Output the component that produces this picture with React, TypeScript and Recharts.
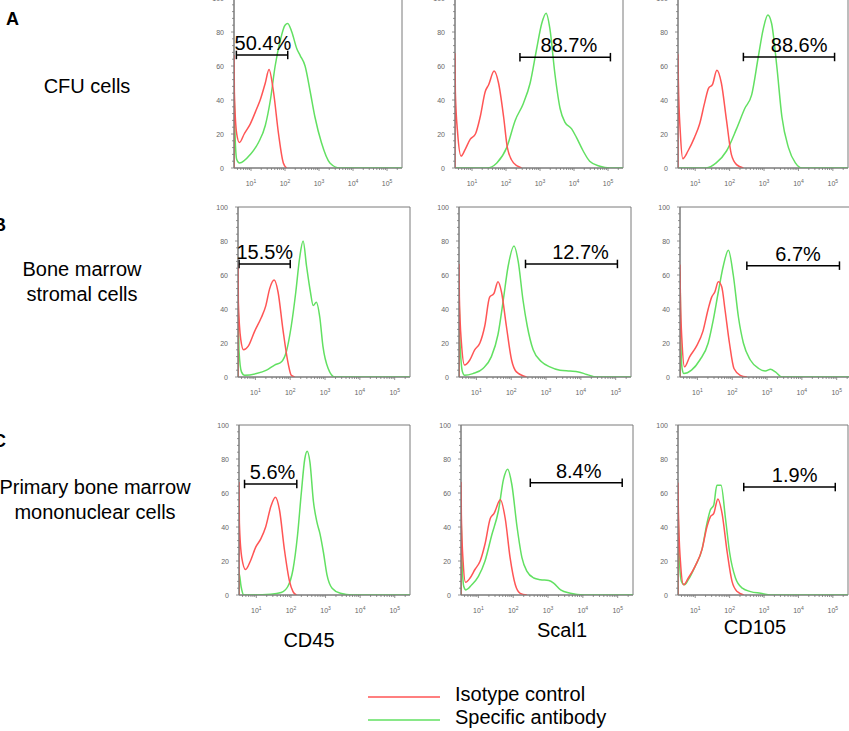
import React from 'react';
import { LineChart, Line, XAxis, YAxis, ReferenceLine, ReferenceDot, ReferenceArea } from 'recharts';

type Pt = [number, number];

// x = log10(fluorescence intensity), y = % of max
const cfuCd45Isotype: Pt[] = [[0.5,0],[0.502,66],[0.51,45],[0.58,20],[0.66,15],[0.8,20],[0.98,26],[1.17,35],[1.27,40],[1.42,50],[1.53,58],[1.66,45],[1.81,20],[1.95,3],[2.05,0]];
const cfuCd45Specific: Pt[] = [[0.5,0],[0.502,45],[0.53,20],[0.58,5],[0.66,3],[0.98,8],[1.22,15],[1.42,25],[1.57,40],[1.71,60],[1.86,75],[2.0,84],[2.08,85],[2.2,80],[2.35,70],[2.45,66],[2.59,60],[2.74,45],[2.88,30],[3.07,15],[3.32,3],[3.61,0],[5.44,0]];
const cfuScaIsotype: Pt[] = [[0.5,0],[0.502,67],[0.51,45],[0.58,20],[0.68,7],[0.8,11],[0.95,17],[1.1,20],[1.24,30],[1.39,45],[1.49,49],[1.65,57],[1.78,50],[1.93,30],[2.04,12],[2.22,3],[2.46,0]];
const cfuScaSpecific: Pt[] = [[0.5,0],[1.44,0],[1.73,3],[2.02,12],[2.27,28],[2.51,38],[2.71,50],[2.9,70],[3.05,85],[3.18,91],[3.29,82],[3.44,55],[3.59,35],[3.73,27],[3.93,23],[4.07,18],[4.27,10],[4.46,4],[4.76,1],[5.05,0],[5.44,0]];
const cfuCd105Isotype: Pt[] = [[0.5,0],[0.502,67],[0.51,51],[0.57,20],[0.64,5.5],[0.79,10],[0.98,18],[1.13,26],[1.27,38],[1.39,47],[1.5,49],[1.63,57.5],[1.76,50],[1.91,28],[2.05,8],[2.2,2],[2.4,0]];
const cfuCd105Specific: Pt[] = [[0.5,0],[1.32,0],[1.61,3],[1.91,10],[2.2,23],[2.44,35],[2.64,43],[2.83,65],[2.98,82],[3.11,90],[3.22,85],[3.37,60],[3.52,30],[3.71,12],[3.91,3],[4.1,0],[5.44,0]];

const bmscCd45Isotype: Pt[] = [[0.5,0],[0.502,66],[0.51,44],[0.58,22],[0.66,16],[0.79,18],[0.98,27],[1.17,35],[1.3,42],[1.41,52],[1.54,57],[1.65,50],[1.79,28],[1.94,8],[2.03,1],[2.13,0]];
const bmscCd45Specific: Pt[] = [[0.5,0],[0.502,45],[0.53,15],[0.6,3],[0.69,1],[1.03,2],[1.32,4],[1.55,7],[1.75,9],[1.89,15],[2.03,30],[2.16,50],[2.27,70],[2.37,80],[2.47,65],[2.58,50],[2.66,42],[2.75,44],[2.85,35],[2.94,18],[3.09,5],[3.28,0],[5.44,0]];
const bmscScaIsotype: Pt[] = [[0.5,0],[0.502,66],[0.51,47],[0.57,20],[0.66,7],[0.81,10],[0.95,16],[1.1,20],[1.24,30],[1.38,47],[1.5,49],[1.62,56],[1.72,50],[1.86,30],[2.01,10],[2.15,3],[2.44,0]];
const bmscScaSpecific: Pt[] = [[0.5,0],[0.502,47],[0.53,20],[0.6,3],[0.66,1],[0.9,2],[1.19,5],[1.43,12],[1.62,25],[1.77,45],[1.91,65],[2.08,77],[2.2,68],[2.34,45],[2.46,30],[2.63,16],[2.87,9],[3.11,6],[3.4,4],[3.69,3.5],[3.93,3],[4.17,1.5],[4.46,0],[5.44,0]];
const bmscCd105Isotype: Pt[] = [[0.5,0],[0.502,66],[0.51,49],[0.56,20],[0.63,6],[0.78,12],[0.97,18],[1.16,27],[1.31,40],[1.41,47],[1.5,50],[1.6,56],[1.7,53],[1.79,40],[1.92,20],[2.05,5],[2.23,1],[2.42,0]];
const bmscCd105Specific: Pt[] = [[0.5,0],[0.502,62],[0.52,25],[0.56,5],[0.61,2],[0.83,4],[1.07,10],[1.31,20],[1.45,33],[1.6,50],[1.74,65],[1.89,74.5],[2.03,60],[2.18,35],[2.32,20],[2.52,10],[2.76,5],[2.95,3.5],[3.1,4.5],[3.24,3],[3.43,0],[5.44,0]];

const pbmcCd45Isotype: Pt[] = [[0.5,0],[0.502,66],[0.51,43],[0.58,22],[0.69,15],[0.83,20],[0.98,28],[1.13,33],[1.27,40],[1.42,52],[1.55,57.5],[1.67,50],[1.81,27],[1.96,8],[2.06,2],[2.16,0]];
const pbmcCd45Specific: Pt[] = [[0.5,0],[0.502,13],[0.56,5],[0.64,0],[1.42,0.5],[1.72,1.5],[1.91,5],[2.06,15],[2.19,35],[2.3,60],[2.4,80],[2.47,84.5],[2.55,78],[2.65,55],[2.75,43],[2.84,36],[2.94,25],[3.04,12],[3.19,4],[3.43,1],[3.77,0],[5.44,0]];
const pbmcScaIsotype: Pt[] = [[0.5,0],[0.502,66],[0.51,47],[0.56,20],[0.63,7.5],[0.76,10],[0.9,15],[1.05,20],[1.19,30],[1.34,45],[1.45,48],[1.63,56],[1.77,45],[1.91,22],[2.06,6],[2.2,1],[2.39,0]];
const pbmcScaSpecific: Pt[] = [[0.5,0],[0.502,47],[0.53,20],[0.58,5],[0.64,3],[0.81,6],[1.0,11],[1.19,20],[1.38,35],[1.58,50],[1.72,68],[1.84,74],[1.96,65],[2.11,40],[2.25,22],[2.39,14],[2.59,10],[2.78,9],[3.02,8.5],[3.16,7],[3.36,3],[3.64,1],[4.03,0],[5.44,0]];
const pbmcCd105Isotype: Pt[] = [[0.5,0],[0.502,66],[0.51,50],[0.57,20],[0.66,6],[0.8,10],[1.0,17],[1.2,27],[1.34,40],[1.44,46],[1.54,48],[1.66,56.5],[1.78,48],[1.93,25],[2.07,8],[2.22,2],[2.41,0]];
const pbmcCd105Specific: Pt[] = [[0.5,0],[0.502,50],[0.53,25],[0.6,8],[0.69,6],[0.8,9],[1.0,17],[1.2,27],[1.34,42],[1.44,50],[1.54,53],[1.63,64.5],[1.75,64.5],[1.88,45],[2.0,25],[2.17,10],[2.37,4],[2.61,2],[2.9,1],[3.2,0],[5.44,0]];

const panelLetters = ['A', 'B', 'C'];
const rowLabels = [['CFU cells'], ['Bone marrow', 'stromal cells'], ['Primary bone marrow', 'mononuclear cells']];
const markerNames = ['CD45', 'Scal1', 'CD105'];
const legendNames = ['Isotype control', 'Specific antibody'];

const gateLabels = [['50.4%', '88.7%', '88.6%'], ['15.5%', '12.7%', '6.7%'], ['5.6%', '8.4%', '1.9%']];
const gateStarts = [[0.57, 2.41, 2.40], [0.53, 2.41, 2.42], [0.66, 2.49, 2.41]];
const gateEnds = [[2.08, 5.07, 5.05], [2.0, 5.05, 5.08], [2.17, 5.13, 5.07]];
const gateLevels = [[66.5, 65.2, 65.3], [66.4, 66.5, 65.5], [65.3, 66, 63.5]];
const gateLabelCenters = [[1.35, 3.85, 4.02], [1.27, 3.99, 3.89], [1.47, 3.88, 3.89]];

const xMajorTicks = [1, 2, 3, 4, 5];
const yMajorTicks = [0, 20, 40, 60, 80, 100];
const X_DOMAIN: [number, number] = [0.5, 5.44];

const isotypeSeries = [[cfuCd45Isotype, cfuScaIsotype, cfuCd105Isotype], [bmscCd45Isotype, bmscScaIsotype, bmscCd105Isotype], [pbmcCd45Isotype, pbmcScaIsotype, pbmcCd105Isotype]];
const specificSeries = [[cfuCd45Specific, cfuScaSpecific, cfuCd105Specific], [bmscCd45Specific, bmscScaSpecific, bmscCd105Specific], [pbmcCd45Specific, pbmcScaSpecific, pbmcCd105Specific]];

const FONT = "'Liberation Sans', Arial, sans-serif";
const RED = '#ff5555';
const GREEN = '#62e062';
const AXIS = '#7a7a7a';

// minor log ticks
const xMinorTicks: number[] = [];
for (let n = 0; n <= 5; n++) {
  for (let k = 2; k <= 9; k++) {
    const v = n + Math.log10(k);
    if (v > X_DOMAIN[0] && v < X_DOMAIN[1]) xMinorTicks.push(v);
  }
}
const xTicks = [...xMajorTicks, ...xMinorTicks].sort((a, b) => a - b);
const yTicks: number[] = [];
for (let v = 0; v <= 100; v += 4) yTicks.push(v);

// layout: plot boxes [left, top, right, bottom]
const boxes = [
  [[234, -2, 402, 168], [455, -2, 623, 168], [678, -2, 848, 168]],
  [[238, 207, 410, 377], [459, 207, 631, 377], [680, 207, 852, 377]],
  [[239, 425, 410, 595], [461, 425, 633, 595], [678, 425, 848, 595]],
];

const XTick = (props: any) => {
  const { x, y, payload } = props;
  const v = payload.value;
  const major = Math.abs(v - Math.round(v)) < 1e-6;
  return (
    <g>
      <line x1={x} x2={x} y1={y} y2={y + (major ? 3 : 2)} stroke={AXIS} strokeWidth={0.8} />
      {major && (
        <text x={x} y={y + 18} textAnchor="middle" fontSize={7} fill="#666" fontFamily={FONT}>
          10<tspan dy={-3} fontSize={5}>{Math.round(v)}</tspan>
        </text>
      )}
    </g>
  );
};

const YTick = (props: any) => {
  const { x, y, payload } = props;
  const v = payload.value;
  const major = yMajorTicks.includes(v);
  return (
    <g>
      <line x1={x} x2={x - (major ? 3 : 2)} y1={y} y2={y} stroke={AXIS} strokeWidth={0.8} />
      {major && (
        <text x={x - 10} y={y + 2.5} textAnchor="end" fontSize={7} fill="#666" fontFamily={FONT}>
          {v}
        </text>
      )}
    </g>
  );
};

const toObjs = (pts: Pt[]) => pts.map(([x, y]) => ({ x, y }));

function Panel({ r, c }: { r: number; c: number }) {
  const [l, t, rr, b] = boxes[r][c];
  const padL = 30, padR = 4, padT = 8, padB = 26;
  const w = rr - l + padL + padR;
  const h = b - t + padT + padB;
  const gy = gateLevels[r][c];
  const g1 = gateStarts[r][c];
  const g2 = gateEnds[r][c];
  return (
    <div style={{ position: 'absolute', left: l - padL, top: t - padT, width: w, height: h }}>
      <LineChart width={w} height={h} margin={{ top: padT, right: padR, left: 0, bottom: 0 }} style={{ fontFamily: FONT }}>
        <XAxis type="number" dataKey="x" domain={X_DOMAIN} allowDataOverflow ticks={xTicks} interval={0}
          tick={(p: any) => <XTick {...p} />} tickLine={false} tickSize={0} tickMargin={0} height={padB}
          axisLine={{ stroke: AXIS }} />
        <YAxis type="number" dataKey="y" domain={[0, 100]} allowDataOverflow ticks={yTicks} interval={0}
          tick={(p: any) => <YTick {...p} />} tickLine={false} tickSize={0} tickMargin={0} width={padL}
          axisLine={{ stroke: AXIS }} />
        <ReferenceArea x1={X_DOMAIN[0]} x2={X_DOMAIN[1]} y1={0} y2={100} fill="none" stroke={AXIS} strokeWidth={1} ifOverflow="visible" />
        <Line data={toObjs(specificSeries[r][c])} dataKey="y" type="monotone" stroke={GREEN} strokeWidth={1.5} dot={false} isAnimationActive={false} />
        <Line data={toObjs(isotypeSeries[r][c])} dataKey="y" type="monotone" stroke={RED} strokeWidth={1.5} dot={false} isAnimationActive={false} />
        <ReferenceLine segment={[{ x: g1, y: gy }, { x: g2, y: gy }]} stroke="#000" strokeWidth={1.5} ifOverflow="visible" />
        <ReferenceLine segment={[{ x: g1, y: gy - 2.5 }, { x: g1, y: gy + 2.5 }]} stroke="#000" strokeWidth={1.5} ifOverflow="visible" />
        <ReferenceLine segment={[{ x: g2, y: gy - 2.5 }, { x: g2, y: gy + 2.5 }]} stroke="#000" strokeWidth={1.5} ifOverflow="visible" />
        <ReferenceDot x={gateLabelCenters[r][c]} y={gy} r={0} fill="none" stroke="none" ifOverflow="visible"
          label={{ value: gateLabels[r][c], position: 'top', offset: 5, fontSize: 20, fill: '#000', fontFamily: FONT }} />
      </LineChart>
    </div>
  );
}

export default function App() {
  const rowLabelPos = [
    { cx: 87, base: [93] },
    { cx: 82, base: [276, 301] },
    { cx: 95, base: [494, 519] },
  ];
  const letterBase = [25, 231, 447];
  const letterX = [6, -7, -7];
  const markerPos = [
    { cx: 309, base: 647 },
    { cx: 562, base: 637 },
    { cx: 755, base: 634 },
  ];
  return (
    <div style={{ position: 'absolute', left: 0, top: 0, width: 849, height: 731, overflow: 'hidden', background: '#fff' }}>
      {[0, 1, 2].map((r) => [0, 1, 2].map((c) => <Panel key={`${r}-${c}`} r={r} c={c} />))}
      <svg width={849} height={731} style={{ position: 'absolute', left: 0, top: 0, pointerEvents: 'none' }} fontFamily={FONT}>
        {panelLetters.map((L, i) => (
          <text key={L} x={letterX[i]} y={letterBase[i]} fontSize={18} fontWeight="bold" fill="#000">{L}</text>
        ))}
        {rowLabels.map((lines, i) =>
          lines.map((s, j) => (
            <text key={`${i}-${j}`} x={rowLabelPos[i].cx} y={rowLabelPos[i].base[j]} fontSize={20} textAnchor="middle" fill="#000">{s}</text>
          ))
        )}
        {markerNames.map((m, i) => (
          <text key={m} x={markerPos[i].cx} y={markerPos[i].base} fontSize={20} textAnchor="middle" fill="#000">{m}</text>
        ))}
        <line x1={368} x2={440} y1={697} y2={697} stroke={RED} strokeWidth={1.5} />
        <text x={455} y={701} fontSize={20} fill="#000">{legendNames[0]}</text>
        <line x1={368} x2={440} y1={720} y2={720} stroke={GREEN} strokeWidth={1.5} />
        <text x={455} y={724} fontSize={20} fill="#000">{legendNames[1]}</text>
      </svg>
    </div>
  );
}
